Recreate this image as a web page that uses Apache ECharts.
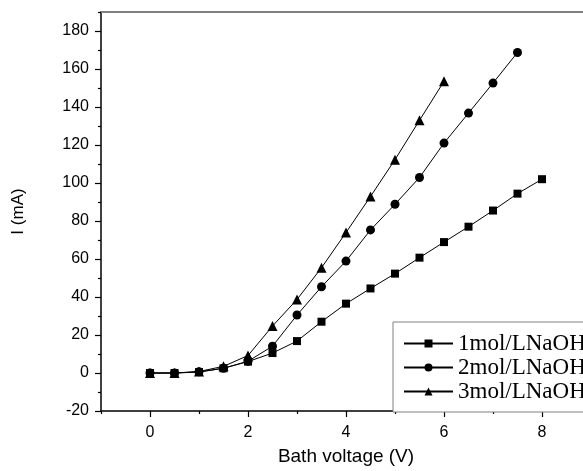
<!DOCTYPE html>
<html>
<head>
<meta charset="utf-8">
<script src="https://cdn.jsdelivr.net/npm/echarts@6/dist/echarts.min.js"></script>
<style>
  html, body { margin: 0; padding: 0; background: #fff; }
  #chart { width: 583px; height: 471px; }
</style>
</head>
<body>
<div id="chart"></div>
<script>
// Bath voltage (V) sampled every 0.5 V
const voltage = [0, 0.5, 1, 1.5, 2, 2.5, 3, 3.5, 4, 4.5, 5, 5.5, 6, 6.5, 7, 7.5, 8];

// Current (mA) for each NaOH concentration
const current1mol = [0, 0, 0.5, 2.5, 6, 10.5, 16.8, 27, 36.5, 44.5, 52.3, 60.7, 68.9, 77, 85.5, 94.4, 102];
const current2mol = [0, 0, 0.6, 2.5, 6.2, 14.1, 30.5, 45.4, 58.9, 75.3, 88.8, 102.9, 121, 136.8, 152.6, 168.7];
const current3mol = [0, 0, 0.8, 3.5, 9.2, 24.7, 38.7, 55.4, 73.9, 92.9, 112.3, 133, 153.5];

const seriesNames = ['1mol/LNaOH', '2mol/LNaOH', '3mol/LNaOH'];
const xTickLabels = [0, 2, 4, 6, 8];
const xMinorTicks = [-1, 1, 3, 5, 7, 9];
const yTickLabels = [-20, 0, 20, 40, 60, 80, 100, 120, 140, 160, 180];
const yMinorTicks = [-10, 10, 30, 50, 70, 90, 110, 130, 150, 170, 190];

const pairs = (xs, ys) => ys.map((y, i) => [xs[i], y]);

const axisFont = { fontFamily: 'Liberation Sans, Arial, sans-serif', fontSize: 16, color: '#000' };

const chart = echarts.init(document.getElementById('chart'), null, { renderer: 'canvas' });

const baseX = { type: 'value', min: -1, max: 9, splitLine: { show: false } };
const baseY = { type: 'value', min: -20, max: 190, splitLine: { show: false } };

chart.setOption({
  animation: false,
  backgroundColor: '#fff',
  grid: { left: 101, top: 12, right: -8, bottom: 60, containLabel: false, outerBoundsMode: 'none' },
  xAxis: [
    Object.assign({}, baseX, {
      position: 'bottom',
      name: 'Bath voltage (V)',
      nameLocation: 'middle',
      nameGap: 36,
      nameTextStyle: Object.assign({}, axisFont, { fontSize: 19 }),
      axisLine: { show: true, onZero: false, lineStyle: { color: '#000', width: 1.5 } },
      axisTick: { show: true, inside: false, length: 6, customValues: xTickLabels, lineStyle: { color: '#000', width: 1.2 } },
      axisLabel: Object.assign({ show: true, margin: 14, customValues: xTickLabels }, axisFont)
    }),
    Object.assign({}, baseX, {
      position: 'bottom',
      axisLine: { show: false, onZero: false },
      axisTick: { show: true, inside: false, length: 3, customValues: xMinorTicks, lineStyle: { color: '#000', width: 1.2 } },
      axisLabel: { show: false }
    }),
    Object.assign({}, baseX, {
      position: 'top',
      axisLine: { show: true, onZero: false, lineStyle: { color: '#808080', width: 2 } },
      axisTick: { show: false },
      axisLabel: { show: false }
    })
  ],
  yAxis: [
    Object.assign({}, baseY, {
      position: 'left',
      name: 'I (mA)',
      nameLocation: 'middle',
      nameGap: 74,
      nameRotate: 90,
      nameTextStyle: Object.assign({}, axisFont, { fontSize: 17 }),
      axisLine: { show: true, onZero: false, lineStyle: { color: '#000', width: 1.5 } },
      axisTick: { show: true, inside: false, length: 6, customValues: yTickLabels, lineStyle: { color: '#000', width: 1.2 } },
      axisLabel: Object.assign({ show: true, margin: 12, customValues: yTickLabels }, axisFont)
    }),
    Object.assign({}, baseY, {
      position: 'left',
      axisLine: { show: false, onZero: false },
      axisTick: { show: true, inside: false, length: 3, customValues: yMinorTicks, lineStyle: { color: '#000', width: 1.2 } },
      axisLabel: { show: false }
    })
  ],
  legend: {
    left: 393,
    top: 322,
    orient: 'vertical',
    padding: [10, 40, 9, 10],
    itemGap: 1,
    itemWidth: 49,
    itemHeight: 10,
    itemStyle: { color: '#000' },
    borderColor: '#808080',
    borderWidth: 1,
    backgroundColor: '#fff',
    textStyle: { fontFamily: 'Liberation Serif, Times New Roman, serif', fontSize: 23, color: '#000' },
    data: seriesNames
  },
  series: [
    {
      name: seriesNames[0], type: 'line', data: pairs(voltage, current1mol),
      symbol: 'rect', symbolSize: 8,
      lineStyle: { color: '#000', width: 1 }, itemStyle: { color: '#000' }
    },
    {
      name: seriesNames[1], type: 'line', data: pairs(voltage, current2mol),
      symbol: 'circle', symbolSize: 9,
      lineStyle: { color: '#000', width: 1 }, itemStyle: { color: '#000' }
    },
    {
      name: seriesNames[2], type: 'line', data: pairs(voltage, current3mol),
      symbol: 'triangle', symbolSize: 10,
      lineStyle: { color: '#000', width: 1 }, itemStyle: { color: '#000' }
    }
  ]
});
</script>
</body>
</html>
